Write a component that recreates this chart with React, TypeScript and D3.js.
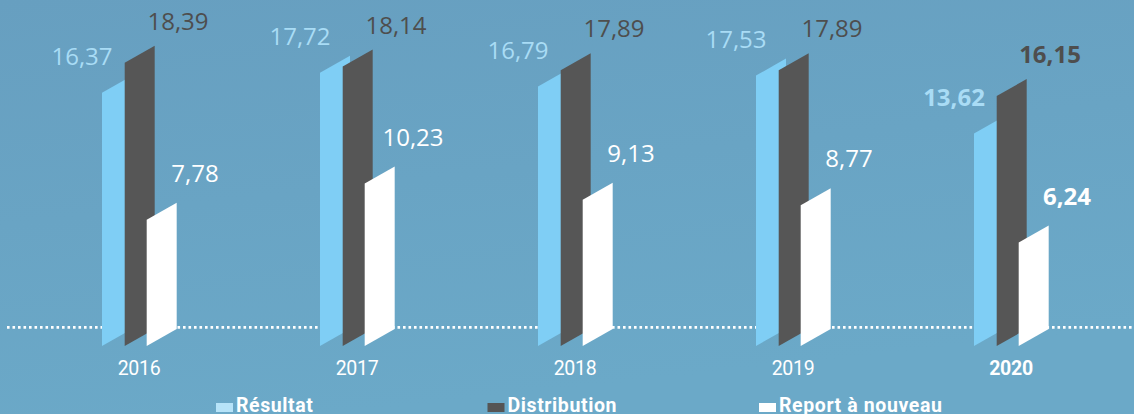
import { useEffect, useRef } from 'react';
import * as d3 from 'd3';

const years = ['2016', '2017', '2018', '2019', '2020'];
const resultat = [16.37, 17.72, 16.79, 17.53, 13.62];
const distribution = [18.39, 18.14, 17.89, 17.89, 16.15];
const report = [7.78, 10.23, 9.13, 8.77, 6.24];
const highlightYear = '2020';

const legendLabels = ['Résultat', 'Distribution', 'Report à nouveau'];

const fmt = (v: number) => v.toFixed(2).replace('.', ',');

export default function App() {
  const svgRef = useRef<SVGSVGElement>(null);
  const W = 1134;
  const H = 414;

  useEffect(() => {
    document.body.style.margin = '0';
    if (!svgRef.current) return;
    const svg = d3.select(svgRef.current);
    svg.selectAll('*').remove();

    // background gradient
    const defs = svg.append('defs');
    const grad = defs.append('linearGradient').attr('id', 'bg').attr('x1', 0).attr('y1', 0).attr('x2', 0.3).attr('y2', 1);
    grad.append('stop').attr('offset', '0%').attr('stop-color', '#679fc0');
    grad.append('stop').attr('offset', '100%').attr('stop-color', '#6ba9c8');
    svg.append('rect').attr('width', W).attr('height', H).attr('fill', 'url(#bg)');

    // x: left edge of each group, y: bar height (bars sit a bit below zero)
    const x = d3.scalePoint<string>().domain(years).range([102, 974]);
    const y = d3.scaleLinear().domain([-0.75, 20]).range([346, 39]);
    const barW = 30;
    const slant = 17;
    const baseline = y(0) - 7.5; // dotted line

    svg.append('line')
      .attr('x1', 7).attr('x2', W).attr('y1', baseline).attr('y2', baseline)
      .attr('stroke', '#ffffff').attr('stroke-width', 2.6)
      .attr('stroke-dasharray', '2.6,2.9');

    const series = [
      { values: resultat, fill: '#7fcef5', label: '#a9dcf5', dx: 0, lx: -20, dy: -27.5, fromRight: false },
      { values: distribution, fill: '#565656', label: '#4e4e4e', dx: 22.7, lx: 76, dy: -16, fromRight: true },
      { values: report, fill: '#ffffff', label: '#ffffff', dx: 44.7, lx: 93, dy: -21, fromRight: true },
    ];

    const bottom = y(-0.75);

    series.forEach(s => {
      years.forEach((yr, i) => {
        const v = s.values[i];
        const x0 = (x(yr) ?? 0) + s.dx;
        const x1 = x0 + barW;
        const top = y(v);
        const pts: [number, number][] = [
          [x0, bottom], [x0, top], [x1, top - slant], [x1, bottom - slant],
        ];
        svg.append('path')
          .attr('d', d3.line()(pts) + 'Z')
          .attr('fill', s.fill);
      });
    });

    // value labels
    series.forEach(s => {
      years.forEach((yr, i) => {
        const v = s.values[i];
        const x0 = x(yr) ?? 0;
        const top = y(v) - (s.fromRight ? slant : 0);
        svg.append('text')
          .attr('x', x0 + s.lx).attr('y', top + s.dy)
          .attr('text-anchor', 'middle')
          .attr('font-family', '"Open Sans", "Noto Sans", sans-serif')
          .attr('font-size', 24)
          .attr('font-weight', yr === highlightYear ? 700 : 400)
          .attr('fill', s.label)
          .text(fmt(v));
      });
    });

    // year labels
    years.forEach(yr => {
      svg.append('text')
        .attr('x', (x(yr) ?? 0) + 37).attr('y', 375)
        .attr('text-anchor', 'middle')
        .attr('font-family', 'Roboto, sans-serif')
        .attr('font-size', 19.5)
        .attr('font-weight', yr === highlightYear ? 700 : 400)
        .attr('fill', '#ffffff')
        .attr('letter-spacing', -0.3)
        .text(yr);
    });

    // legend
    const legendX = d3.scalePoint<string>().domain(legendLabels).range([216, 759]);
    const legendColors = ['#b6e3f8', '#555555', '#ffffff'];
    legendLabels.forEach((lab, i) => {
      const lx = legendX(lab) ?? 0;
      svg.append('rect').attr('x', lx).attr('y', 403).attr('width', 17).attr('height', 9).attr('fill', legendColors[i]);
      svg.append('text')
        .attr('x', lx + 20).attr('y', 411.5)
        .attr('font-family', 'Roboto, sans-serif')
        .attr('font-size', 19.5).attr('font-weight', 700)
        .attr('letter-spacing', 0.6)
        .attr('fill', '#ffffff')
        .text(lab);
    });
  }, []);

  return (
    <svg ref={svgRef} width={W} height={H} style={{ display: 'block' }} />
  );
}
